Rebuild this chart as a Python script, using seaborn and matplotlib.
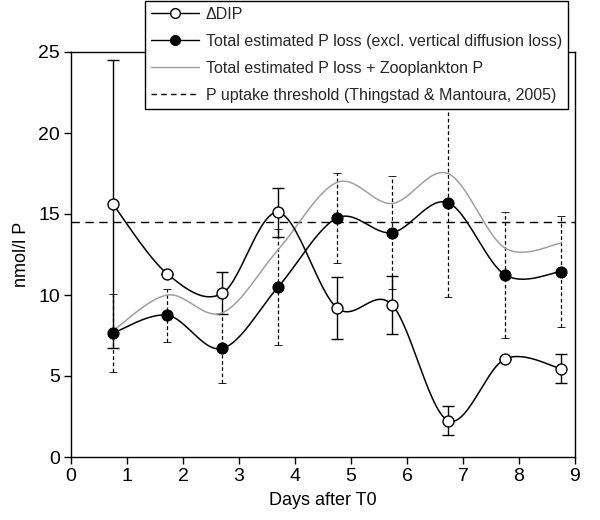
import numpy as np
import pandas as pd
import matplotlib
matplotlib.use("Agg")
import matplotlib.pyplot as plt
import seaborn as sns
from matplotlib.lines import Line2D

# ---- data ----
days = [0.75, 1.72, 2.70, 3.70, 4.75, 5.73, 6.73, 7.75, 8.75]
ddip = [15.6, 11.3, 10.1, 15.1, 9.2, 9.4, 2.25, 6.05, 5.45]
ddip_err = [8.9, 0.0, 1.3, 1.5, 1.9, 1.8, 0.9, 0.0, 0.9]
ploss = [7.65, 8.75, 6.7, 10.5, 14.75, 13.85, 15.7, 11.25, 11.45]
ploss_err = [2.4, 1.65, 2.15, 3.6, 2.8, 3.5, 5.8, 3.9, 3.4]
ploss_zoo = [7.8, 10.0, 8.9, 12.8, 16.95, 15.65, 17.5, 12.9, 13.2]
threshold = 14.5

labels = ["\u0394DIP",
          "Total estimated P loss (excl. vertical diffusion loss)",
          "Total estimated P loss + Zooplankton P",
          "P uptake threshold (Thingstad & Mantoura, 2005)"]

sns.set_theme(style="ticks")
plt.rcParams["font.family"] = ["Liberation Sans", "DejaVu Sans"]


def smooth(x, y, n=30):
    """Catmull-Rom style smoothing (like spreadsheet smoothed lines)."""
    x = np.asarray(x, float); y = np.asarray(y, float)
    px = np.concatenate([[x[0]], x, [x[-1]]])
    py = np.concatenate([[y[0]], y, [y[-1]]])
    xs, ys = [], []
    for i in range(1, len(px) - 2):
        p0, p1, p2, p3 = [np.array([px[j], py[j]]) for j in (i - 1, i, i + 1, i + 2)]
        c1 = p1 + (p2 - p0) / 6.0
        c2 = p2 - (p3 - p1) / 6.0
        t = np.linspace(0, 1, n)[:, None]
        b = ((1 - t) ** 3) * p1 + 3 * ((1 - t) ** 2) * t * c1 + 3 * (1 - t) * t ** 2 * c2 + t ** 3 * p2
        xs.append(b[:, 0]); ys.append(b[:, 1])
    return np.concatenate(xs), np.concatenate(ys)


fig = plt.figure(figsize=(6.0, 5.2), dpi=100)
ax = fig.add_axes([71 / 600, 1 - 457 / 520, (575 - 71) / 600, (457 - 52) / 520])

# threshold
ax.axhline(threshold, color="black", lw=1.0, ls=(0, (6, 4)), zorder=1)

# dashed error bars for P loss
eb = ax.errorbar(days, ploss, yerr=ploss_err, fmt="none", ecolor="black",
                 elinewidth=0.9, capsize=3, capthick=0.6, zorder=2)
for coll in eb[2]:
    coll.set_linestyle((0, (3, 2)))

# solid error bars for DIP
ax.errorbar(days, ddip, yerr=ddip_err, fmt="none", ecolor="black",
            elinewidth=1.0, capsize=4, capthick=1.0, zorder=3)

# smoothed lines via seaborn
for yv, col in [(ploss_zoo, "#a0a0a0"), (ploss, "black"), (ddip, "black")]:
    sx, sy = smooth(days, yv)
    df = pd.DataFrame({"x": sx, "y": sy})
    sns.lineplot(data=df, x="x", y="y", ax=ax, color=col, lw=1.1, sort=False,
                 estimator=None, zorder=4)

# markers
sns.scatterplot(x=days, y=ploss, ax=ax, color="black", s=62, edgecolor="black",
                linewidth=0.9, zorder=6)
sns.scatterplot(x=days, y=ddip, ax=ax, color="white", s=62, edgecolor="black",
                linewidth=1.0, zorder=6)

ax.set_xlim(0, 9)
ax.set_ylim(0, 25)
ax.set_xticks(range(0, 10))
ax.set_yticks(range(0, 26, 5))
ax.tick_params(axis="both", direction="out", length=5, width=1.0, labelsize=14,
               colors="black", pad=3)
for s in ax.spines.values():
    s.set_visible(True)
    s.set_color("black")
    s.set_linewidth(1.0)
ax.set_xlabel("Days after T0", fontsize=13, color="black", labelpad=5)
ax.set_ylabel("nmol/l P", fontsize=13, color="black", labelpad=6)

handles = [
    Line2D([], [], color="black", lw=1.0, marker="o", markerfacecolor="white",
           markeredgecolor="black", markersize=7),
    Line2D([], [], color="black", lw=1.0, marker="o", markerfacecolor="black",
           markeredgecolor="black", markersize=7),
    Line2D([], [], color="#a0a0a0", lw=1.0),
    Line2D([], [], color="black", lw=1.0, ls=(0, (4, 3))),
]
leg = fig.legend(handles, labels, loc="upper left",
                 bbox_to_anchor=(145 / 600, 0.999), bbox_transform=fig.transFigure,
                 fontsize=11.5, frameon=True, fancybox=False, framealpha=1,
                 edgecolor="black", borderaxespad=0, handlelength=3.0,
                 handletextpad=0.4, labelspacing=0.75, borderpad=0.4)
leg.get_frame().set_linewidth(1.0)
leg.set_zorder(10)

fig.savefig("out.png", dpi=100)
